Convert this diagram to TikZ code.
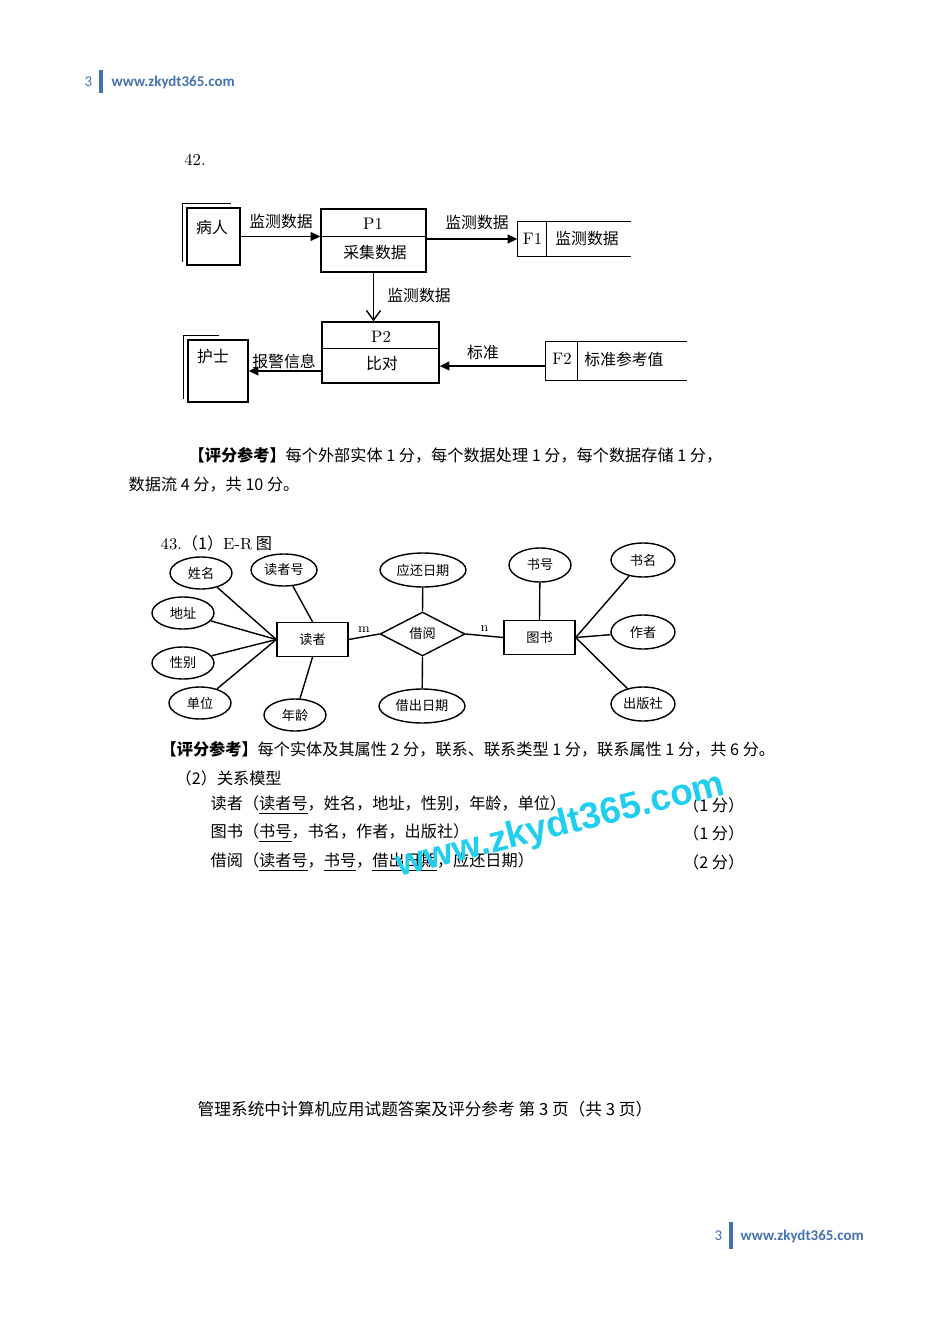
\documentclass[tikz,border=0pt]{standalone}
\usepackage{fontspec}
\newfontfamily\cjk{Noto Sans CJK SC}
\newfontfamily\sitefont{Carlito}
\newfontfamily\markfont{Liberation Sans}
\usetikzlibrary{arrows.meta,shapes.geometric}
\definecolor{siteblue}{RGB}{68,114,176}
\definecolor{markcyan}{RGB}{32,206,240}

\begin{document}
\begin{tikzpicture}[
        x=0.02cm, y=-0.02cm,
        >={Triangle[length=5.5pt,width=5pt]},
        line width=0.8pt,
        cntext/.style={font=\cjk\fontsize{9}{11}\selectfont, inner sep=0pt},
        entext/.style={font=\rmfamily\fontsize{9.5}{11}\selectfont, inner sep=0pt},
        ertext/.style={font=\cjk\fontsize{7.5}{9}\selectfont, inner sep=0pt},
        bodytext/.style={font=\cjk\fontsize{9.2}{11}\selectfont, inner sep=0pt, anchor=west},
        dfdbox/.style={draw, inner sep=0pt},
        dfdstore/.style={inner sep=0pt},
        openflow/.style={-{Straight Barb[length=5.5pt,width=8pt]}},
        attr/.style={draw, ellipse, ertext, minimum width=1.24cm, minimum height=0.64cm},
        ent/.style={draw, ertext, minimum width=1.42cm, minimum height=0.68cm},
        rel/.style={draw, diamond, ertext, aspect=2, minimum width=1.7cm, minimum height=0.88cm},
        sitetext/.style={text=siteblue, inner sep=0pt, font=\sitefont\fontsize{8.5}{10}\selectfont}
        ]
            %\draw[lightgray] (0, 0) grid (950, 1344);
            \useasboundingbox (0, 0) rectangle (950, 1344);
            \fill[white] (0, 0) rectangle (950, 1344);

            % Page header
            \node[sitetext, anchor=east] (numtop) at (93, 82) {3};
            \draw[siteblue, line width=2.2pt] (101, 70) -- (101, 93);
            \node[sitetext, anchor=west, font=\sitefont\bfseries\fontsize{8.5}{10}\selectfont] (urltop) at (111, 82) {www.zkydt365.com};

            % Question 42
            \node[entext] (qa) at (195, 160) {42.};

            % External entities
            \node[dfdbox, minimum width=1.06cm, minimum height=1.14cm] (bingren) at (213.5, 236.5) {};
            \draw[line width=0.6pt] ([shift={(-4,-4)}]bingren.south west) -- ([shift={(-4,-4)}]bingren.north west) -- ++(49, 0);
            \node[cntext] (bingrentxt) at (212, 227) {病人};
            \node[dfdbox, minimum width=1.2cm, minimum height=1.24cm] (hushi) at (218, 371) {};
            \draw[line width=0.6pt] ([shift={(-4,-4)}]hushi.south west) -- ([shift={(-4,-4)}]hushi.north west) -- ++(36, 0);
            \node[cntext] (hushitxt) at (213, 357) {护士};

            % Processes
            \node[dfdbox, minimum width=2.1cm, minimum height=1.26cm] (pa) at (373.5, 240.5) {};
            \draw ([yshift=-0.56cm]pa.north west) -- ([yshift=-0.56cm]pa.north east);
            \node[entext] (paid) at (373, 224) {P1};
            \node[cntext] (paname) at (375, 252) {采集数据};
            \node[dfdbox, minimum width=2.34cm, minimum height=1.22cm] (pb) at (380.5, 352.5) {};
            \draw ([yshift=-0.54cm]pb.north west) -- ([yshift=-0.54cm]pb.north east);
            \node[entext] (pbid) at (381, 337) {P2};
            \node[cntext] (pbname) at (382, 363) {比对};

            % Data stores
            \node[dfdstore, minimum width=2.24cm, minimum height=0.68cm] (fa) at (574, 239) {};
            \draw (fa.north east) -- (fa.north west) -- (fa.south west) -- (fa.south east);
            \draw ([xshift=0.58cm]fa.north west) -- ([xshift=0.58cm]fa.south west);
            \node[entext] (faid) at (532.5, 239) {F1};
            \node[cntext] (faname) at (587, 239) {监测数据};
            \node[dfdstore, minimum width=2.8cm, minimum height=0.76cm] (fb) at (616, 361) {};
            \draw (fb.north east) -- (fb.north west) -- (fb.south west) -- (fb.south east);
            \draw ([xshift=0.64cm]fb.north west) -- ([xshift=0.64cm]fb.south west);
            \node[entext] (fbid) at (562, 359) {F2};
            \node[cntext] (fbname) at (624, 359) {标准参考值};

            % Data flows
            \draw[->] (bingren.east) -- (bingren.east -| pa.west);
            \node[cntext] (flowa) at (281, 222) {监测数据};
            \draw[->] (pa.east |- fa.west) -- (fa.west);
            \node[cntext] (flowb) at (477, 223) {监测数据};
            \draw[openflow] (pa.south) -- (pa.south |- pb.north);
            \node[cntext] (flowc) at (419, 296) {监测数据};
            \coordinate (stdin) at ([yshift=-0.1cm]fb.west);
            \draw[->] (stdin) -- (stdin -| pb.east);
            \node[cntext] (flowd) at (483, 352) {标准};
            \draw[->] (pb.west |- hushi.east) -- (hushi.east);
            \node[cntext] (flowe) at (284, 361) {报警信息};

            % Scoring 42
            \node[bodytext] (scorea) at (188, 455) {{\bfseries 【评分参考】}每个外部实体 1 分，每个数据处理 1 分，每个数据存储 1 分，};
            \node[bodytext] (scoreb) at (128, 485) {数据流 4 分，共 10 分。};

            % Question 43: E-R diagram
            \node[bodytext] (qb) at (160, 543) {{\rmfamily 43.}（1）{\rmfamily E-R} 图};
            \node[ent] (duzhe) at (312.5, 639.5) {读者};
            \node[rel] (jieyue) at (422.5, 634) {借阅};
            \node[ent] (tushu) at (539.5, 637.5) {图书};
            \node[attr] (xingming) at (201, 573) {姓名};
            \node[attr, minimum width=1.32cm] (duzhehao) at (284, 570) {读者号};
            \node[attr] (dizhi) at (183, 613) {地址};
            \node[attr] (xingbie) at (183, 663) {性别};
            \node[attr] (danwei) at (200, 703) {单位};
            \node[attr] (nianling) at (295, 715) {年龄};
            \node[attr, minimum width=1.72cm, minimum height=0.68cm] (yinghuan) at (423, 570) {应还日期};
            \node[attr, minimum width=1.72cm, minimum height=0.68cm] (jiechu) at (422, 706) {借出日期};
            \node[attr, minimum height=0.68cm] (shuhao) at (540, 565) {书号};
            \node[attr, minimum width=1.28cm, minimum height=0.68cm] (shuming) at (643, 560) {书名};
            \node[attr, minimum width=1.28cm, minimum height=0.68cm] (zuozhe) at (643, 632) {作者};
            \node[attr, minimum width=1.28cm, minimum height=0.68cm] (chubanshe) at (643, 704) {出版社};

            \draw (duzhe.east) -- node[above=2pt, entext, font=\rmfamily\fontsize{7.5}{9}\selectfont] (mlbl) {m} (jieyue.west);
            \draw (jieyue.east) -- node[above=2pt, entext, font=\rmfamily\fontsize{7.5}{9}\selectfont] (nlbl) {n} (tushu.west);
            \draw (xingming) -- (duzhe.west);
            \draw (dizhi) -- (duzhe.west);
            \draw (xingbie) -- (duzhe.west);
            \draw (danwei) -- (duzhe.west);
            \draw (duzhehao) -- (duzhe.north);
            \draw (nianling) -- (duzhe.south);
            \draw (yinghuan) -- (jieyue.north);
            \draw (jiechu) -- (jieyue.south);
            \draw (shuhao) -- (tushu.north);
            \draw (shuming) -- (tushu.east);
            \draw (zuozhe) -- (tushu.east);
            \draw (chubanshe) -- (tushu.east);

            % Scoring 43 and relations
            \node[bodytext] (scorec) at (160, 749) {{\bfseries 【评分参考】}每个实体及其属性 2 分，联系、联系类型 1 分，联系属性 1 分，共 6 分。};
            \node[bodytext] (relhead) at (175, 778) {（2）关系模型};
            \node[bodytext] (rela) at (210, 805) {读者（\underline{读者号}，姓名，地址，性别，年龄，单位）};
            \node[bodytext, anchor=east] (ptsa) at (745, 805) {（1 分）};
            \node[bodytext] (relb) at (210, 833) {图书（\underline{书号}，书名，作者，出版社）};
            \node[bodytext, anchor=east] (ptsb) at (745, 833) {（1 分）};
            \node[bodytext] (relc) at (210, 862) {借阅（\underline{读者号}，\underline{书号}，\underline{借出日期}，应还日期）};
            \node[bodytext, anchor=east] (ptsc) at (745, 862) {（2 分）};

            % Watermark
            \node[text=markcyan, font=\markfont\bfseries\fontsize{21}{24}\selectfont, rotate=14, inner sep=0pt] (mark) at (561, 826) {www.zkydt365.com};

            % Page footer
            \node[bodytext, font=\cjk\fontsize{9.5}{11}\selectfont] (foot) at (197, 1109) {管理系统中计算机应用试题答案及评分参考\ 第 3 页（共 3 页）};
            \node[sitetext, anchor=east] (numbot) at (723, 1236) {3};
            \draw[siteblue, line width=2.2pt] (731, 1222) -- (731, 1249);
            \node[sitetext, anchor=west, font=\sitefont\bfseries\fontsize{8.5}{10}\selectfont] (urlbot) at (740, 1236) {www.zkydt365.com};
        \end{tikzpicture}
\end{document}
